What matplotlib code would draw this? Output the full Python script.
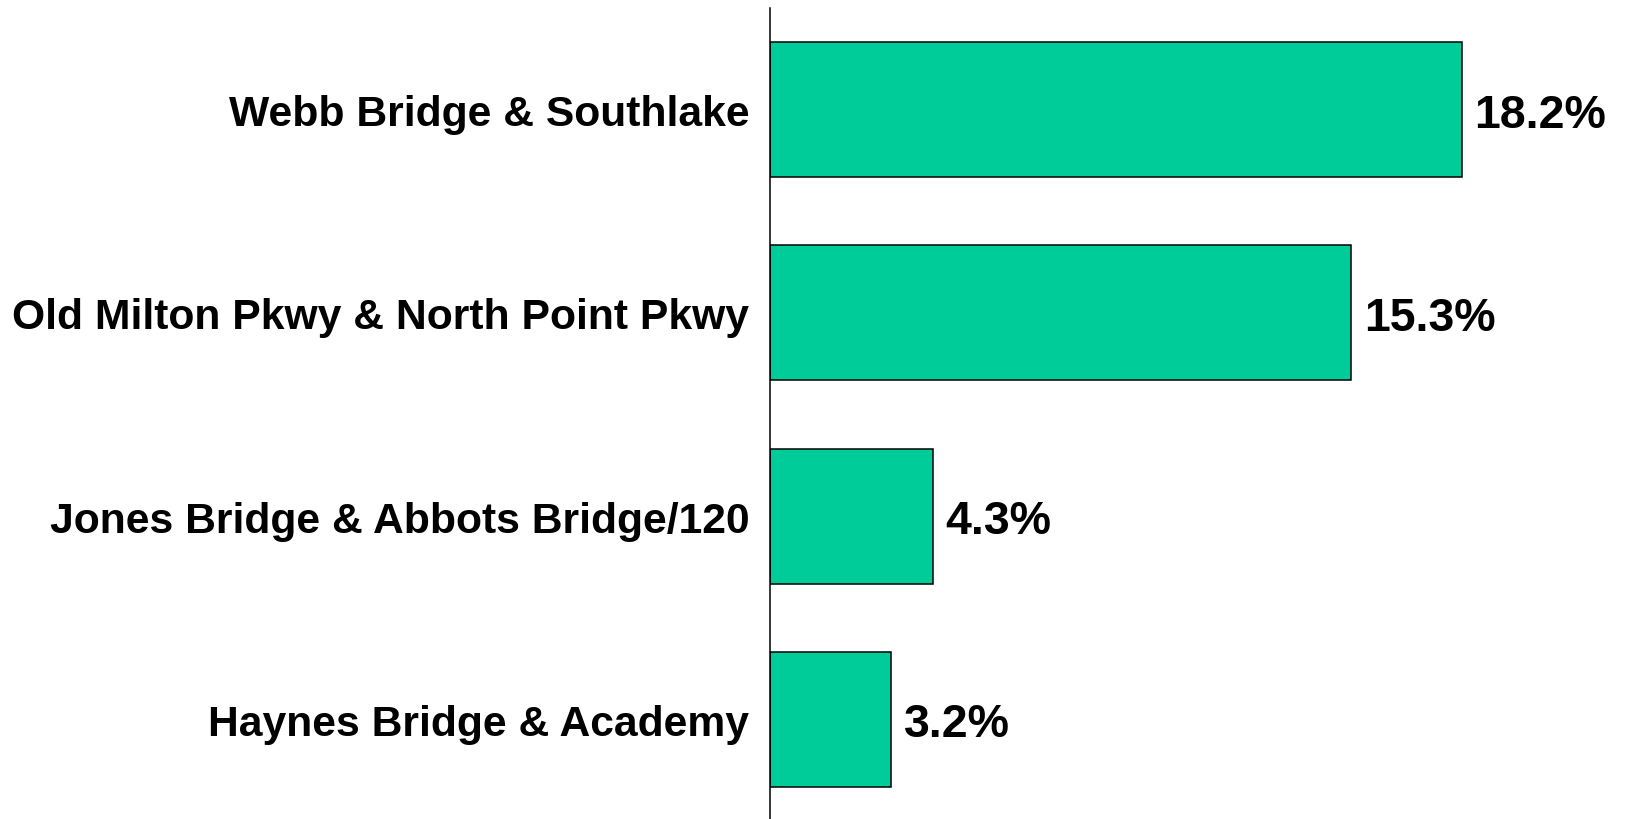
import matplotlib.pyplot as plt

categories = ["Webb Bridge & Southlake", "Old Milton Pkwy & North Point Pkwy",
              "Jones Bridge & Abbots Bridge/120", "Haynes Bridge & Academy"]
values = [18.2, 15.3, 4.3, 3.2]
value_labels = ["18.2%", "15.3%", "4.3%", "3.2%"]

plt.rcParams['font.family'] = ['Liberation Sans', 'DejaVu Sans']

fig = plt.figure(figsize=(16.25, 8.2), dpi=100)
ax = fig.add_axes([769.5 / 1625, -2 / 820, 1 - 769.5 / 1625, 813 / 820])

pos = list(range(len(categories)))
bars = ax.barh(pos, values, height=0.665, color="#00CC99", edgecolor="black", linewidth=1.1)

for b, lab in zip(bars, value_labels):
    ax.annotate(lab, (b.get_width(), b.get_y() + b.get_height() / 2),
                xytext=(9, 0), textcoords="offset points",
                ha="left", va="center_baseline", fontsize=33.5, fontweight="bold")

ax.set_yticks(pos)
ax.set_yticklabels(categories, fontsize=30.7, fontweight="bold", va="center_baseline")
ax.tick_params(axis="y", length=0, pad=14.5)
ax.set_xticks([])
ax.set_xlim(0, 22.5)
ax.set_ylim(3.5, -0.5)
for s in ["top", "right", "bottom"]:
    ax.spines[s].set_visible(False)
ax.spines["left"].set_linewidth(1.1)

fig.savefig("out.png", dpi=100)
